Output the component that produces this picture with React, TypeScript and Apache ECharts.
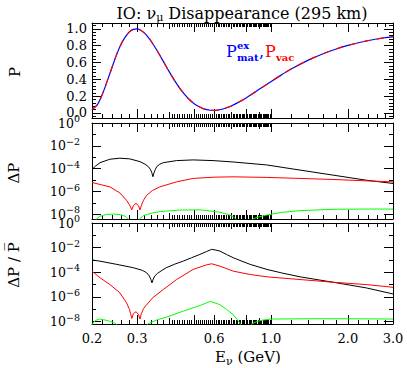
import React, { useEffect, useRef } from "react";
import * as echarts from "echarts";

const FONT = '"DejaVu Serif", serif';

// ---------- Top panel: probability P vs E (GeV)
const E_TOP = [0.2, 0.21, 0.22, 0.23, 0.24, 0.25, 0.26, 0.27, 0.28, 0.29, 0.3, 0.31, 0.32, 0.33, 0.34, 0.36, 0.38, 0.4, 0.42, 0.44, 0.46, 0.48, 0.5, 0.52, 0.55, 0.58, 0.6, 0.62, 0.65, 0.7, 0.75, 0.8, 0.85, 0.9, 1.0, 1.1, 1.2, 1.4, 1.6, 1.8, 2.0, 2.2, 2.5, 2.8, 3.0];
const P_MAT = [0.04, 0.1, 0.23, 0.39, 0.55, 0.7, 0.82, 0.905, 0.965, 0.994, 0.999, 0.984, 0.953, 0.909, 0.856, 0.737, 0.613, 0.494, 0.387, 0.296, 0.221, 0.16, 0.113, 0.08, 0.046, 0.032, 0.03, 0.034, 0.047, 0.083, 0.13, 0.179, 0.23, 0.281, 0.372, 0.453, 0.522, 0.628, 0.705, 0.761, 0.803, 0.835, 0.871, 0.896, 0.909];
const P_VAC = [0.04, 0.1, 0.23, 0.39, 0.55, 0.7, 0.82, 0.905, 0.965, 0.994, 0.999, 0.984, 0.953, 0.909, 0.856, 0.737, 0.613, 0.494, 0.387, 0.296, 0.221, 0.16, 0.113, 0.08, 0.046, 0.032, 0.03, 0.034, 0.047, 0.083, 0.13, 0.179, 0.23, 0.281, 0.372, 0.453, 0.522, 0.628, 0.705, 0.761, 0.803, 0.835, 0.871, 0.896, 0.909];

// ---------- Middle panel: log10(ΔP)
const E_DP_BLACK = [0.2, 0.207, 0.215, 0.235, 0.257, 0.281, 0.308, 0.322, 0.332, 0.338, 0.342, 0.346, 0.35, 0.354, 0.358, 0.368, 0.38, 0.428, 0.497, 0.594, 0.712, 0.963, 1.3, 1.75, 2.35, 3.0];
const LOG_DP_BLACK = [-4.05, -3.75, -3.47, -3.17, -3.08, -3.14, -3.38, -3.6, -3.82, -4.05, -4.3, -4.7, -4.3, -4.05, -3.82, -3.6, -3.47, -3.29, -3.23, -3.29, -3.41, -3.67, -4.12, -4.56, -5.0, -5.29];
const E_DP_RED = [0.2, 0.215, 0.235, 0.257, 0.273, 0.279, 0.283, 0.286, 0.29, 0.294, 0.297, 0.3, 0.304, 0.308, 0.312, 0.318, 0.327, 0.345, 0.368, 0.428, 0.497, 0.6, 0.712, 0.96, 1.3, 1.75, 2.35, 3.0];
const LOG_DP_RED = [-5.2, -5.38, -5.59, -6.12, -6.77, -7.1, -7.35, -7.6, -7.25, -7.1, -7.05, -7.1, -7.25, -7.6, -7.2, -6.75, -6.33, -5.9, -5.59, -5.15, -4.85, -4.74, -4.71, -4.76, -4.85, -4.94, -5.06, -5.15];
const E_DP_GREEN = [0.2, 0.204, 0.208, 0.215, 0.228, 0.242, 0.255, 0.266, 0.273, 0.277, 0.285, 0.298, 0.306, 0.318, 0.34, 0.37, 0.44, 0.53, 0.63, 0.68, 0.713, 0.73, 0.76, 0.8, 0.85, 0.9, 0.965, 1.1, 1.3, 1.75, 2.4, 3.0];
const LOG_DP_GREEN = [-10, -8.9, -8.4, -8.15, -8.0, -7.97, -8.0, -8.1, -8.25, -8.4, -10, -10, -8.4, -8.1, -7.9, -7.75, -7.62, -7.6, -7.8, -8.0, -8.2, -8.4, -10, -10, -8.4, -8.2, -8.05, -7.82, -7.67, -7.55, -7.53, -7.53];

// ---------- Bottom panel: log10(ΔP / P̄)
const E_RP_BLACK = [0.2, 0.215, 0.25, 0.29, 0.315, 0.327, 0.335, 0.34, 0.343, 0.347, 0.352, 0.36, 0.375, 0.39, 0.42, 0.455, 0.49, 0.528, 0.56, 0.587, 0.61, 0.632, 0.67, 0.713, 0.77, 0.83, 0.965, 1.1, 1.3, 1.75, 2.36, 3.0];
const LOG_RP_BLACK = [-3.0, -3.1, -3.36, -3.63, -3.85, -4.04, -4.3, -4.6, -4.86, -4.55, -4.3, -4.1, -3.85, -3.63, -3.35, -3.09, -2.82, -2.55, -2.32, -2.14, -2.2, -2.28, -2.55, -2.82, -3.1, -3.36, -3.77, -4.05, -4.37, -4.81, -5.27, -5.76];
const E_RP_RED = [0.2, 0.215, 0.235, 0.257, 0.273, 0.28, 0.283, 0.286, 0.29, 0.294, 0.297, 0.3, 0.304, 0.308, 0.312, 0.318, 0.325, 0.345, 0.38, 0.428, 0.497, 0.56, 0.587, 0.632, 0.713, 0.83, 0.965, 1.3, 1.75, 2.36, 3.0];
const LOG_RP_RED = [-3.91, -4.45, -5.0, -5.67, -6.49, -7.0, -7.35, -7.75, -7.4, -7.25, -7.22, -7.28, -7.45, -7.8, -7.35, -6.95, -6.7, -6.08, -5.4, -4.59, -3.77, -3.4, -3.31, -3.5, -3.91, -4.18, -4.37, -4.59, -4.81, -5.0, -5.22];
const E_RP_GREEN = [0.2, 0.202, 0.207, 0.214, 0.222, 0.232, 0.243, 0.25, 0.255, 0.322, 0.33, 0.36, 0.39, 0.455, 0.528, 0.58, 0.632, 0.67, 0.713, 0.74, 0.76, 0.77, 0.82, 0.84, 0.88, 0.93, 1.0, 1.5, 2.2, 3.0];
const LOG_RP_GREEN = [-8.4, -8.1, -7.9, -7.8, -7.85, -7.95, -8.08, -8.25, -10, -10, -8.2, -7.85, -7.65, -7.15, -6.7, -6.36, -6.63, -7.0, -7.45, -7.85, -8.2, -10, -10, -8.2, -8.0, -7.88, -7.8, -7.77, -7.78, -7.8];

// ---------- Axis ticks / labels
const X_LABELS = [0.2, 0.3, 0.6, 1.0, 2.0, 3.0];
const X_TICKS_LONG = [0.3, 0.5, 0.6, 0.8, 1.0, 2.0];
const X_TICKS_MID = [0.4, 0.7, 0.9];
const P_LABELS = [0, 0.2, 0.4, 0.6, 0.8, 1.0];
const LOG_LABELS = [0, -2, -4, -6, -8];
const LOG_MINOR = [-1, -3, -5, -7];

const X_TICKS_SHORT: number[] = (() => {
  const t: number[] = [];
  for (let k = 22; k <= 28; k += 2) t.push(k / 100);
  for (let k = 32; k <= 38; k += 2) t.push(k / 100);
  for (let k = 41; k <= 99; k++) if (k % 10 !== 0) t.push(k / 100);
  for (let k = 12; k <= 18; k += 2) t.push(k / 10);
  for (let k = 22; k <= 28; k += 2) t.push(k / 10);
  return t;
})();
const P_MINOR: number[] = (() => {
  const t: number[] = [];
  for (let k = -1; k <= 26; k++) if (k % 5 !== 0) t.push(Math.round(k * 4) / 100);
  return t;
})();

const X_MIN = Math.log10(0.2);
const X_MAX = Math.log10(3.0);

const GRIDS = [
  { top: 23, height: 95, ymin: -0.06, ymax: 1.07 },
  { top: 123, height: 96, ymin: -8.4, ymax: 0 },
  { top: 223, height: 101, ymin: -8.2, ymax: 0 },
];

const pts = (E: number[], V: number[]) => E.map((e, i) => [Math.log10(e), V[i]]);

const supLabel = (v: number) => `{a|10}{b|${v === 0 ? "0" : "\u2212" + Math.abs(v)}}`;

function buildOption() {
  const grid = GRIDS.map((g) => ({ left: 92, width: 301, top: g.top, height: g.height, containLabel: false }));
  const xAxis: any[] = [];
  const yAxis: any[] = [];
  GRIDS.forEach((g, gi) => {
    const classes = [
      { ticks: X_TICKS_LONG, len: 9 },
      { ticks: X_TICKS_MID, len: 6 },
      { ticks: X_TICKS_SHORT, len: 4 },
    ];
    classes.forEach((c, ci) => {
      ["bottom", "top"].forEach((pos, pi) => {
        const withLabels = gi === 2 && ci === 0 && pi === 0;
        xAxis.push({
          type: "value",
          gridIndex: gi,
          position: pos,
          min: X_MIN,
          max: X_MAX,
          axisLine: { show: ci === 0, onZero: false, lineStyle: { color: "#000", width: 1 } },
          axisTick: {
            show: true,
            inside: true,
            length: c.len,
            customValues: c.ticks.map((e) => Math.log10(e)),
            lineStyle: { color: "#000", width: 1 },
          },
          axisLabel: withLabels
            ? {
                show: true,
                customValues: X_LABELS.map((e) => Math.log10(e)),
                formatter: (v: number) => Math.pow(10, v).toFixed(1),
                margin: 8,
                fontFamily: FONT,
                fontSize: 13,
                color: "#000",
              }
            : { show: false },
          splitLine: { show: false },
        });
      });
    });
    const isP = gi === 0;
    const majors = isP ? P_LABELS : LOG_LABELS;
    const minors = isP ? P_MINOR : LOG_MINOR;
    [
      { ticks: majors, len: 9 },
      { ticks: minors, len: 4 },
    ].forEach((c, ci) => {
      ["left", "right"].forEach((pos, pi) => {
        const withLabels = ci === 0 && pi === 0;
        yAxis.push({
          type: "value",
          gridIndex: gi,
          position: pos,
          min: g.ymin,
          max: g.ymax,
          axisLine: { show: ci === 0, onZero: false, lineStyle: { color: "#000", width: 1 } },
          axisTick: {
            show: true,
            inside: true,
            length: c.len,
            customValues: c.ticks,
            lineStyle: { color: "#000", width: 1 },
          },
          axisLabel: withLabels
            ? isP
              ? {
                  show: true,
                  customValues: P_LABELS,
                  formatter: (v: number) => v.toFixed(1),
                  margin: 5,
                  fontFamily: FONT,
                  fontSize: 13,
                  color: "#000",
                }
              : {
                  show: true,
                  customValues: LOG_LABELS,
                  formatter: supLabel,
                  margin: 12,
                  color: "#000",
                  rich: {
                    a: { fontFamily: FONT, fontSize: 12.5, color: "#000" },
                    b: { fontFamily: FONT, fontSize: 9.5, color: "#000", padding: [0, 0, 9, 0] },
                  },
                }
            : { show: false },
          splitLine: { show: false },
        });
      });
    });
  });

  const line = (gi: number, data: number[][], color: string, extra: any = {}) => ({
    type: "line",
    xAxisIndex: gi * 6,
    yAxisIndex: gi * 4,
    data,
    showSymbol: false,
    symbol: "none",
    clip: true,
    lineStyle: { color, width: 1, ...(extra.lineStyle || {}) },
    smooth: extra.smooth ?? false,
    z: extra.z ?? 2,
  });

  const series = [
    line(0, pts(E_TOP, P_MAT), "#0000ff", { smooth: 0.3, lineStyle: { width: 1.2 } }),
    line(0, pts(E_TOP, P_VAC), "#ff0000", { smooth: 0.3, lineStyle: { width: 1.2, type: [7, 7] }, z: 3 }),
    line(1, pts(E_DP_BLACK, LOG_DP_BLACK), "#000000"),
    line(1, pts(E_DP_RED, LOG_DP_RED), "#ff0000"),
    line(1, pts(E_DP_GREEN, LOG_DP_GREEN), "#00ff00"),
    line(2, pts(E_RP_BLACK, LOG_RP_BLACK), "#000000"),
    line(2, pts(E_RP_RED, LOG_RP_RED), "#ff0000"),
    line(2, pts(E_RP_GREEN, LOG_RP_GREEN), "#00ff00"),
  ];

  const graphic: any[] = [
    {
      type: "text",
      x: 242,
      y: 13,
      style: {
        text: "{a|IO: \u03bd}{b|\u03bc}{a| Disappearance (295 km)}",
        align: "center",
        verticalAlign: "middle",
        rich: {
          a: { fontFamily: FONT, fontSize: 16, fill: "#000" },
          b: { fontFamily: FONT, fontSize: 11, fill: "#000", padding: [8, 0, 0, 0] },
        },
      },
    },
    {
      type: "text",
      x: 248,
      y: 357,
      style: {
        text: "{a|E}{b|\u03bd}{a| (GeV)}",
        align: "center",
        verticalAlign: "middle",
        rich: {
          a: { fontFamily: FONT, fontSize: 15, fill: "#000" },
          b: { fontFamily: FONT, fontSize: 11, fill: "#000", padding: [8, 0, 0, 0] },
        },
      },
    },
    { type: "text", x: 15, y: 72, rotation: Math.PI / 2, style: { text: "P", fontFamily: FONT, fontSize: 15, fill: "#000", align: "center", verticalAlign: "middle" } },
    { type: "text", x: 14, y: 173, rotation: Math.PI / 2, style: { text: "\u0394P", fontFamily: FONT, fontSize: 15, fill: "#000", align: "center", verticalAlign: "middle" } },
    { type: "text", x: 14, y: 265, rotation: Math.PI / 2, style: { text: "\u0394P / P\u0305", fontFamily: FONT, fontSize: 15, fill: "#000", align: "center", verticalAlign: "middle" } },
    // legend
    { type: "text", x: 226, y: 51, style: { text: "P", fontFamily: FONT, fontSize: 16, fill: "#0000ff", align: "left", verticalAlign: "middle" } },
    { type: "text", x: 237, y: 45, style: { text: "ex", fontFamily: FONT, fontSize: 10, fontWeight: "bold", fill: "#0000ff", align: "left", verticalAlign: "middle" } },
    { type: "text", x: 237, y: 57, style: { text: "mat", fontFamily: FONT, fontSize: 10, fontWeight: "bold", fill: "#0000ff", align: "left", verticalAlign: "middle" } },
    { type: "text", x: 259, y: 51, style: { text: ",", fontFamily: FONT, fontSize: 16, fill: "#0000ff", align: "left", verticalAlign: "middle" } },
    { type: "text", x: 265, y: 51, style: { text: "P", fontFamily: FONT, fontSize: 16, fill: "#ff0000", align: "left", verticalAlign: "middle" } },
    { type: "text", x: 276, y: 57, style: { text: "vac", fontFamily: FONT, fontSize: 10, fontWeight: "bold", fill: "#ff0000", align: "left", verticalAlign: "middle" } },
  ];

  return {
    animation: false,
    backgroundColor: "#ffffff",
    grid,
    xAxis,
    yAxis,
    series,
    graphic,
  };
}

export default function App() {
  const ref = useRef<HTMLDivElement>(null);
  useEffect(() => {
    document.body.style.margin = "0";
    if (!ref.current) return;
    const chart = echarts.init(ref.current, undefined, { renderer: "svg" });
    chart.setOption(buildOption() as any);
    return () => chart.dispose();
  }, []);
  return <div ref={ref} style={{ width: 407, height: 368 }} />;
}
